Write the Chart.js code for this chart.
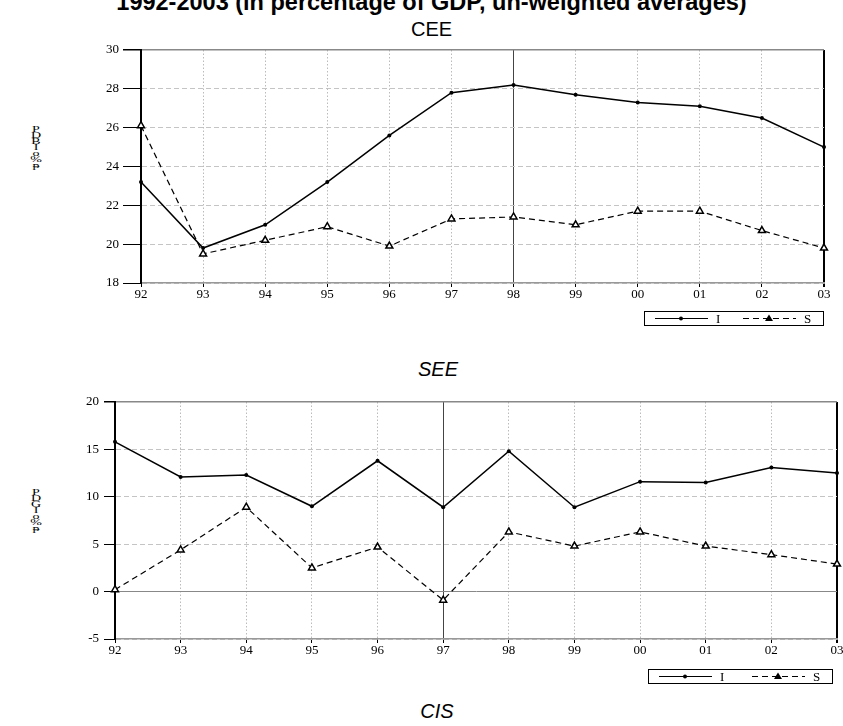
<!DOCTYPE html>
<html>
<head>
<meta charset="utf-8">
<script src="https://cdn.jsdelivr.net/npm/chart.js@4.4.1/dist/chart.umd.min.js"></script>
<style>
  html, body { margin: 0; padding: 0; background: #fff; }
  body { width: 843px; height: 726px; position: relative; overflow: hidden; font-family: "Liberation Sans", Arial, sans-serif; }
  .caja { position: absolute; left: 0; width: 843px; }
  .titulo { position: absolute; left: 0; width: 863px; text-align: center; line-height: 1; color: #000; }
  .ylab { position: absolute; width: 14px; text-align: center; font-family: "Liberation Serif", serif; font-size: 14px; line-height: 11px; color: #000; transform: scaleY(0.55); transform-origin: top left; }
</style>
</head>
<body>

<div class="titulo" style="top:-9px; font-size:23.5px; font-weight:bold;">1992-2003 (in percentage of GDP, un-weighted averages)</div>
<div class="titulo" style="top:19px; font-size:20px;">CEE</div>
<div class="titulo" style="top:359px; font-size:20px; font-style:italic; width:876px;">SEE</div>
<div class="titulo" style="top:701px; font-size:20px; font-style:italic; width:874px;">CIS</div>

<div class="ylab" style="left:29px; top:126px;">P<br>D<br>B<br>I<br>o<br>%<br>ᵽ</div>
<div class="ylab" style="left:29px; top:489px;">P<br>D<br>G<br>I<br>o<br>%<br>ᵽ</div>

<div class="caja" style="top:40px; height:300px;"><canvas id="chart-cee"></canvas></div>
<div class="caja" style="top:380px; height:320px;"><canvas id="chart-see"></canvas></div>

<script>
// --- datos ---
const years = ['92', '93', '94', '95', '96', '97', '98', '99', '00', '01', '02', '03'];

const ceeI = [23.2, 19.8, 21.0, 23.2, 25.6, 27.8, 28.2, 27.7, 27.3, 27.1, 26.5, 25.0];
const ceeS = [26.1, 19.5, 20.2, 20.9, 19.9, 21.3, 21.4, 21.0, 21.7, 21.7, 20.7, 19.8];
const ceeTicks = [18, 20, 22, 24, 26, 28, 30];

const seeI = [15.8, 12.1, 12.3, 9.0, 13.8, 8.9, 14.8, 8.9, 11.6, 11.5, 13.1, 12.5];
const seeS = [0.2, 4.4, 8.9, 2.5, 4.7, -0.9, 6.3, 4.8, 6.3, 4.8, 3.9, 2.9];
const seeTicks = [-5, 0, 5, 10, 15, 20];

const seriesNames = ['I', 'S'];

const serif = '"Liberation Serif", "Times New Roman", serif';

// leyenda con recuadro (linea + marcador + texto), dibujada en el canvas
const legendBox = {
    id: 'legendBox',
    afterDraw(chart, args, opts) {
        const ctx = chart.ctx;
        const area = chart.chartArea;
        const right = area.right + opts.dx;
        const left = right - opts.width;
        const top = area.bottom + opts.dy;
        ctx.save();
        ctx.strokeStyle = '#000';
        ctx.lineWidth = 1;
        ctx.strokeRect(Math.round(left) + 0.5, Math.round(top) + 0.5, opts.width, opts.height);
        const midY = Math.round(top + opts.height / 2) + 0.5;
        let x = left + 11;
        chart.data.datasets.forEach(ds => {
            ctx.setLineDash(ds.borderDash || []);
            ctx.lineWidth = 1.2;
            ctx.beginPath();
            ctx.moveTo(x, midY);
            ctx.lineTo(x + 53, midY);
            ctx.stroke();
            ctx.setLineDash([]);
            const mx = x + 26;
            ctx.fillStyle = '#000';
            if (ds.pointStyle === 'triangle') {
                ctx.beginPath();
                ctx.moveTo(mx, midY - 4);
                ctx.lineTo(mx + 4, midY + 2.5);
                ctx.lineTo(mx - 4, midY + 2.5);
                ctx.closePath();
                ctx.fill();
            } else {
                ctx.beginPath();
                ctx.arc(mx, midY, 2, 0, Math.PI * 2);
                ctx.fill();
            }
            ctx.font = '13px ' + serif;
            ctx.textBaseline = 'middle';
            ctx.textAlign = 'left';
            ctx.fillText(ds.label, x + 61, midY + 1);
            x += opts.step;
        });
        ctx.restore();
    }
};

function crearGrafica(canvasId, valI, valS, ticks, cfg) {
    const last = years.length - 1;
    const top = ticks[ticks.length - 1];
    return new Chart(document.getElementById(canvasId), {
        type: 'line',
        data: {
            labels: years,
            datasets: [{
                label: seriesNames[0],
                data: valI,
                borderColor: '#000',
                backgroundColor: '#000',
                borderWidth: 1.5,
                pointStyle: 'circle',
                pointRadius: 2,
                pointBorderWidth: 0,
                tension: 0
            }, {
                label: seriesNames[1],
                data: valS,
                borderColor: '#000',
                backgroundColor: '#fff',
                borderWidth: 1.2,
                borderDash: [6, 4],
                pointStyle: 'triangle',
                pointRadius: 4,
                pointBorderWidth: 1.5,
                tension: 0
            }]
        },
        options: {
            responsive: true,
            maintainAspectRatio: false,
            animation: false,
            events: [],
            layout: { padding: { top: cfg.padTop, right: cfg.padRight, left: 0, bottom: 0 } },
            plugins: {
                legend: { display: false },
                tooltip: { enabled: false },
                legendBox: cfg.legend
            },
            scales: {
                x: {
                    type: 'category',
                    offset: false,
                    grid: {
                        color: c => c.index === last ? '#000' : (c.index === cfg.markIdx ? '#444' : '#bbb'),
                        lineWidth: c => c.index === last ? 2 : 1,
                        tickColor: '#000',
                        tickLength: 4
                    },
                    border: {
                        color: '#999', width: 1.5,
                        dash: c => (c.index === last || c.index === cfg.markIdx) ? [] : [1.5, 2]
                    },
                    ticks: {
                        color: '#000',
                        font: { family: serif, size: 13 },
                        padding: 0,
                        maxRotation: 0,
                        autoSkip: false
                    },
                    afterFit: s => { s.height = cfg.xHeight; s.paddingLeft = 0; s.paddingRight = 0; }
                },
                y: {
                    min: ticks[0],
                    max: top,
                    afterBuildTicks: s => { s.ticks = ticks.map(v => ({ value: v })); },
                    grid: {
                        color: c => (c.tick && (c.tick.value === top || c.tick.value === 0)) ? '#888' : '#c4c4c4',
                        lineWidth: c => (c.tick && c.tick.value === top) ? 1.5 : 1,
                        tickColor: '#000',
                        tickLength: cfg.yTickLen
                    },
                    border: {
                        color: '#000', width: 2,
                        dash: c => (c.tick && (c.tick.value === top || c.tick.value === 0)) ? [] : [5, 3]
                    },
                    ticks: {
                        color: '#000',
                        font: { family: serif, size: 13 },
                        padding: cfg.yPad
                    },
                    afterFit: s => { s.width = cfg.yWidth; s.paddingTop = 0; s.paddingBottom = 0; }
                }
            }
        },
        plugins: [legendBox]
    });
}

// CEE (panel superior)
crearGrafica('chart-cee', ceeI, ceeS, ceeTicks, {
    padTop: 10, padRight: 19, xHeight: 57, yWidth: 141, yTickLen: 18, yPad: 4, markIdx: 6,
    legend: { dx: -1, dy: 28, width: 179, height: 14, step: 88 }
});

// SEE (panel inferior)
crearGrafica('chart-see', seeI, seeS, seeTicks, {
    padTop: 22, padRight: 6, xHeight: 61, yWidth: 115, yTickLen: 11, yPad: 5, markIdx: 5,
    legend: { dx: -5, dy: 30, width: 184, height: 14, step: 93 }
});
</script>
</body>
</html>
